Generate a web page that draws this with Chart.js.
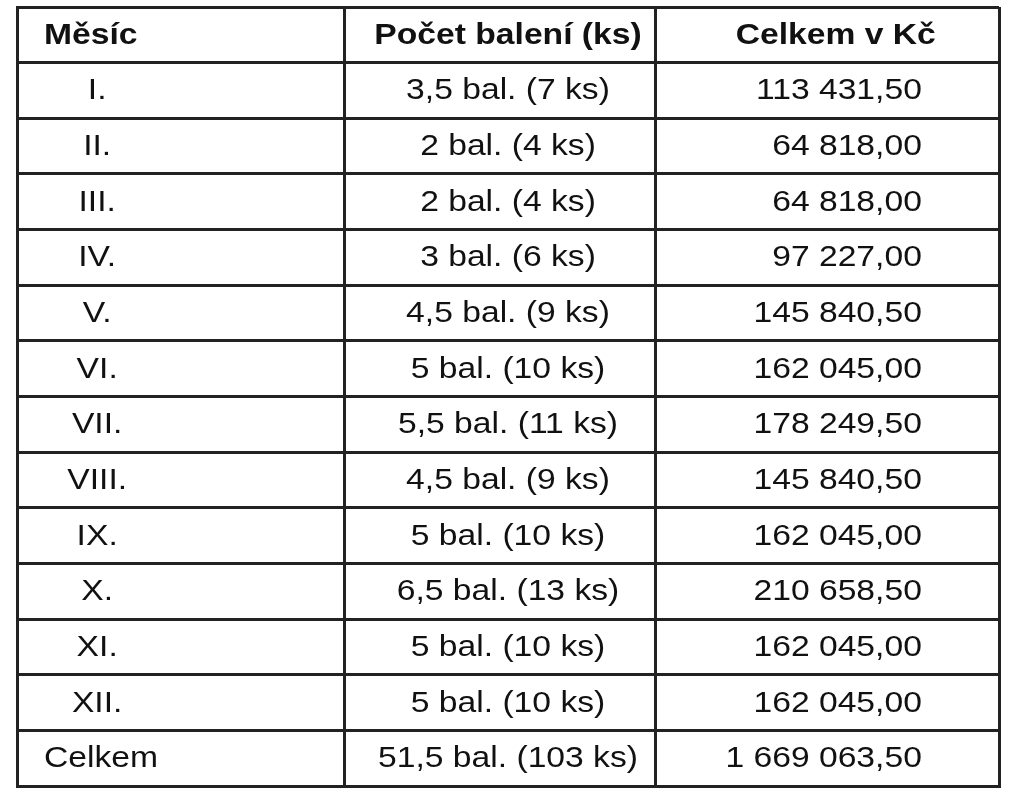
<!DOCTYPE html>
<html>
<head>
<meta charset="utf-8">
<script src="https://cdn.jsdelivr.net/npm/chart.js@4/dist/chart.umd.min.js"></script>
<style>html,body{margin:0;padding:0;background:#fff}</style>
</head>
<body>
<canvas id="chart" width="1015" height="800"></canvas>
<script>
const headers = ["Měsíc", "Počet balení (ks)", "Celkem v Kč"];
const months = ["I.", "II.", "III.", "IV.", "V.", "VI.", "VII.", "VIII.", "IX.", "X.", "XI.", "XII.", "Celkem"];
const packs = ["3,5 bal. (7 ks)", "2 bal. (4 ks)", "2 bal. (4 ks)", "3 bal. (6 ks)", "4,5 bal. (9 ks)",
  "5 bal. (10 ks)", "5,5 bal. (11 ks)", "4,5 bal. (9 ks)", "5 bal. (10 ks)", "6,5 bal. (13 ks)",
  "5 bal. (10 ks)", "5 bal. (10 ks)", "51,5 bal. (103 ks)"];
const totals = ["113 431,50", "64 818,00", "64 818,00", "97 227,00", "145 840,50", "162 045,00",
  "178 249,50", "145 840,50", "162 045,00", "210 658,50", "162 045,00", "162 045,00", "1 669 063,50"];

// column borders in table units
const colEdges = [0, 327, 637, 980];
const rowCount = months.length + 1;
const stretch = 1.16;

// text is a bit wider in the original, so stretch horizontally
function drawText(ctx, text, px, py, align) {
  ctx.save();
  ctx.translate(px, py);
  ctx.scale(stretch, 1);
  ctx.textAlign = align;
  ctx.fillText(text, 0, 0);
  ctx.restore();
}

const tablePlugin = {
  id: "tableText",
  afterDraw(chart) {
    const { ctx, scales: { x, y } } = chart;
    ctx.save();
    ctx.fillStyle = "#111";
    ctx.textBaseline = "middle";
    const font = "'Liberation Sans', Arial, sans-serif";
    let yy = y.getPixelForValue(0.5) + 1;
    ctx.font = "bold 29px " + font;
    drawText(ctx, headers[0], x.getPixelForValue(27), yy, "left");
    drawText(ctx, headers[1], x.getPixelForValue(490), yy, "center");
    drawText(ctx, headers[2], x.getPixelForValue(817), yy, "center");
    ctx.font = "29px " + font;
    months.forEach((m, i) => {
      yy = y.getPixelForValue(i + 1.5) + 1;
      if (i === months.length - 1) {
        drawText(ctx, m, x.getPixelForValue(27), yy, "left");
      } else {
        drawText(ctx, m, x.getPixelForValue(80), yy, "center");
      }
      drawText(ctx, packs[i], x.getPixelForValue(490), yy, "center");
      drawText(ctx, totals[i], x.getPixelForValue(903), yy, "right");
    });
    ctx.restore();
  }
};

new Chart(document.getElementById("chart").getContext("2d"), {
  type: "scatter",
  data: { datasets: [{ data: [] }] },
  options: {
    responsive: false,
    animation: false,
    layout: { padding: { left: 17, right: 16, top: 7, bottom: 14 } },
    plugins: { legend: { display: false }, tooltip: { enabled: false } },
    scales: {
      x: {
        type: "linear", min: 0, max: colEdges[colEdges.length - 1],
        afterBuildTicks: s => { s.ticks = colEdges.map(v => ({ value: v })); },
        ticks: { display: false },
        grid: { color: "#222", lineWidth: 3, drawTicks: false },
        border: { display: true, color: "#222", width: 3 }
      },
      y: {
        type: "linear", min: 0, max: rowCount, reverse: true,
        ticks: { display: false, stepSize: 1 },
        grid: { color: "#222", lineWidth: 3, drawTicks: false },
        border: { display: true, color: "#222", width: 3 }
      }
    }
  },
  plugins: [tablePlugin]
});
</script>
</body>
</html>
